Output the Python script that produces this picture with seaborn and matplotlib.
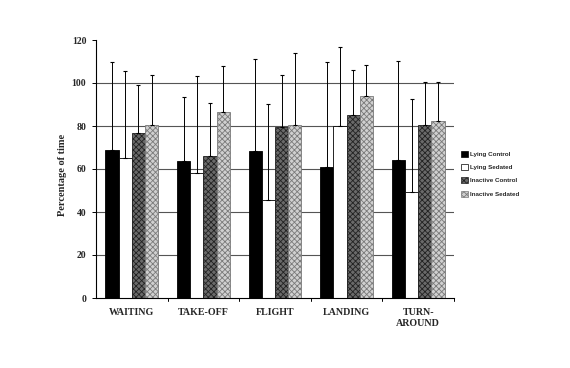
import numpy as np
import pandas as pd
import matplotlib
matplotlib.use('Agg')
import matplotlib.pyplot as plt
import seaborn as sns
from matplotlib.patches import Patch

phases = ['WAITING', 'TAKE-OFF', 'FLIGHT', 'LANDING', 'TURN-\nAROUND']
groups = ['Lying Control', 'Lying Sedated', 'Inactive Control', 'Inactive Sedated']

lying_control = [68.7, 63.6, 68.5, 61.1, 64.3]
lying_sedated = [65.0, 58.0, 45.5, 79.8, 49.5]
inactive_control = [76.7, 65.9, 79.5, 85.3, 80.3]
inactive_sedated = [80.3, 86.7, 80.3, 93.8, 82.2]

lying_control_sd = [41.1, 30.0, 42.7, 48.5, 45.9]
lying_sedated_sd = [40.4, 45.4, 44.9, 36.8, 43.1]
inactive_control_sd = [22.5, 24.6, 24.1, 20.6, 20.0]
inactive_sedated_sd = [23.3, 21.1, 33.8, 14.4, 18.1]

y_ticks = [0, 20, 40, 60, 80, 100, 120]

means = [lying_control, lying_sedated, inactive_control, inactive_sedated]
sds = [lying_control_sd, lying_sedated_sd, inactive_control_sd, inactive_sedated_sd]

rows = []
for g, vals, errs in zip(groups, means, sds):
    for p, v, e in zip(phases, vals, errs):
        rows.append({'phase': p, 'group': g, 'value': v, 'sd': e})
df = pd.DataFrame(rows)

sns.set_style('white')
plt.rcParams['hatch.linewidth'] = 0.6
serif = ['Liberation Serif', 'DejaVu Serif']
sans = ['Liberation Sans', 'DejaVu Sans']

faces = ['#000000', '#ffffff', '#6a6a6a', '#d0d0d0']
hatch_edges = ['#000000', '#000000', '#222222', '#7a7a7a']
hatches = [None, None, 'xxxxxx', 'xxxxxx']

fig = plt.figure(figsize=(5.7, 3.68), dpi=100)
ax = fig.add_axes([96/570, 1-298/368, (454-96)/570, (298-40)/368])

sns.barplot(data=df, x='phase', y='value', hue='group', order=phases,
            hue_order=groups, palette=faces, width=0.74, errorbar=None,
            edgecolor='black', linewidth=0.6, legend=False, ax=ax, zorder=2)

bar_containers = list(ax.containers)
for i, cont in enumerate(bar_containers):
    g = groups[i]
    sub = df[df.group == g].set_index('phase').loc[phases]
    xs = []
    for patch in cont:
        patch.set_facecolor(faces[i])
        if hatches[i]:
            patch.set_hatch(hatches[i])
            patch.set_edgecolor(hatch_edges[i])
        xs.append(patch.get_x() + patch.get_width() / 2)
    ax.errorbar(xs, sub['value'].values,
                yerr=[np.zeros(len(xs)), sub['sd'].values],
                fmt='none', ecolor='black', elinewidth=0.7, capsize=1.6,
                capthick=0.8, zorder=3)

ax.set_ylim(0, 120)
ax.set_xlim(-0.5, len(phases) - 0.5)
ax.set_yticks(y_ticks)
ax.set_yticklabels([str(t) for t in y_ticks], family=serif, fontweight='bold', fontsize=7)
for t in y_ticks[1:-1]:
    ax.axhline(t, color='#555555', lw=0.8, zorder=1)

ax.set_xticks(range(len(phases)))
ax.set_xticklabels(phases, family=serif, fontweight='bold', fontsize=7.2, linespacing=1.35)
ax.tick_params(axis='x', length=0, pad=7)
ax.tick_params(axis='y', length=3, width=0.7, pad=4, left=True, direction='out', color='black')
# boundary ticks on the x axis
for b in np.arange(0.5, len(phases), 1.0):
    ax.plot([b, b], [0, -1.5], color='black', lw=0.7, clip_on=False, zorder=4)

for s in ['top', 'right']:
    ax.spines[s].set_visible(False)
for s in ['left', 'bottom']:
    ax.spines[s].set_color('black')
    ax.spines[s].set_linewidth(0.8)

ax.set_xlabel('')
ax.set_ylabel('Percentage of time', family=serif, fontweight='bold', fontsize=7.5)
ax.yaxis.set_label_coords(-0.081, 0.477)

handles = [Patch(facecolor=faces[i], edgecolor=hatch_edges[i] if hatches[i] else 'black',
                 hatch=hatches[i], linewidth=0.5) for i in range(4)]
fig.legend(handles, groups, loc='upper left', bbox_to_anchor=(455/570, 1-145/368),
           frameon=False, prop={'family': sans, 'weight': 'bold', 'size': 4.5},
           handlelength=1.1, handleheight=1.1, handletextpad=0.35, labelspacing=1.15)

fig.savefig('out.png', dpi=100)
